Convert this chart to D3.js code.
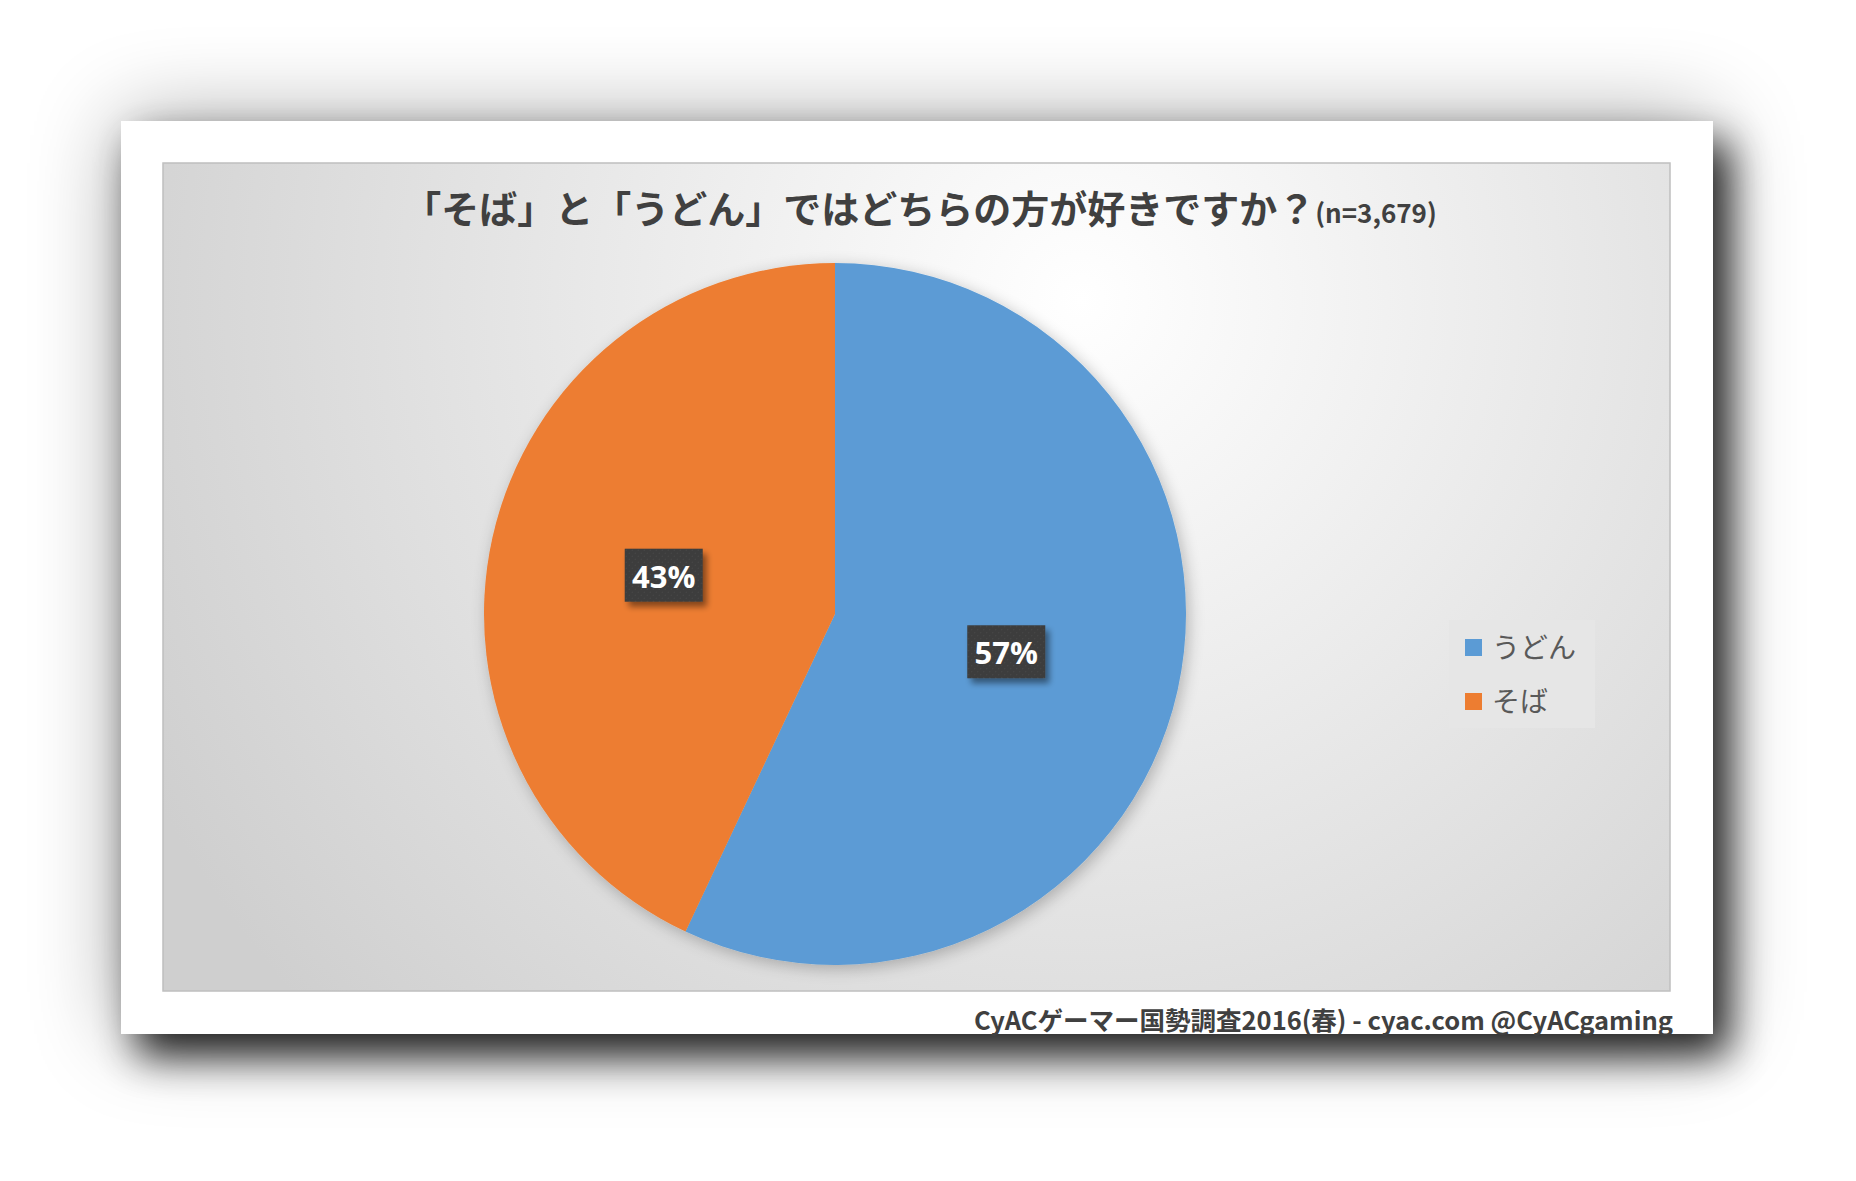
<!DOCTYPE html>
<html><head><meta charset="utf-8">
<script src="https://cdn.jsdelivr.net/npm/d3@7"></script>
<style>
html,body{margin:0;padding:0;background:#fff;}
svg{display:block;}
</style></head>
<body>
<svg id="c" width="1856" height="1181"></svg>
<script>
const categories = ["うどん", "そば"];
const values = [57, 43];
const colors = ["#5B9BD5", "#ED7D31"];
const titleMain = "「そば」と「うどん」ではどちらの方が好きですか？";
const titleSub = "(n=3,679)";
const footer = "CyACゲーマー国勢調査2016(春) - cyac.com @CyACgaming";

const svg = d3.select("#c");
const defs = svg.append("defs");

const cardShadow = defs.append("filter").attr("id","cardShadow")
  .attr("x","-15%").attr("y","-20%").attr("width","135%").attr("height","145%");
cardShadow.append("feGaussianBlur").attr("in","SourceAlpha").attr("stdDeviation",45).attr("result","amb");
cardShadow.append("feComponentTransfer").attr("in","amb").attr("result","amb2")
  .append("feFuncA").attr("type","linear").attr("slope",0.35);
cardShadow.append("feGaussianBlur").attr("in","SourceAlpha").attr("stdDeviation",20).attr("result","b");
cardShadow.append("feOffset").attr("in","b").attr("dx",16).attr("dy",22).attr("result","o");
cardShadow.append("feComponentTransfer").attr("in","o").attr("result","o2")
  .append("feFuncA").attr("type","linear").attr("slope",0.85);
const m1 = cardShadow.append("feMerge");
m1.append("feMergeNode").attr("in","amb2");
m1.append("feMergeNode").attr("in","o2");
m1.append("feMergeNode").attr("in","SourceGraphic");

const pieShadow = defs.append("filter").attr("id","pieShadow")
  .attr("x","-20%").attr("y","-20%").attr("width","140%").attr("height","140%");
pieShadow.append("feGaussianBlur").attr("in","SourceAlpha").attr("stdDeviation",8).attr("result","b");
pieShadow.append("feOffset").attr("in","b").attr("dx",3).attr("dy",4).attr("result","o");
pieShadow.append("feComponentTransfer").attr("in","o").attr("result","o2")
  .append("feFuncA").attr("type","linear").attr("slope",0.25);
const m2 = pieShadow.append("feMerge");
m2.append("feMergeNode").attr("in","o2");
m2.append("feMergeNode").attr("in","SourceGraphic");

const lblShadow = defs.append("filter").attr("id","lblShadow")
  .attr("x","-30%").attr("y","-30%").attr("width","170%").attr("height","180%");
lblShadow.append("feGaussianBlur").attr("in","SourceAlpha").attr("stdDeviation",3).attr("result","b");
lblShadow.append("feOffset").attr("in","b").attr("dx",4).attr("dy",5).attr("result","o");
lblShadow.append("feComponentTransfer").attr("in","o").attr("result","o2")
  .append("feFuncA").attr("type","linear").attr("slope",0.45);
const m3 = lblShadow.append("feMerge");
m3.append("feMergeNode").attr("in","o2");
m3.append("feMergeNode").attr("in","SourceGraphic");

const grad = defs.append("radialGradient").attr("id","bg")
  .attr("gradientUnits","userSpaceOnUse")
  .attr("cx",1080).attr("cy",300).attr("r",1050);
grad.append("stop").attr("offset","0%").attr("stop-color","#ffffff");
grad.append("stop").attr("offset","100%").attr("stop-color","#cfcfcf");

const pat = defs.append("pattern").attr("id","dots").attr("patternUnits","userSpaceOnUse")
  .attr("width",6).attr("height",6);
pat.append("rect").attr("width",6).attr("height",6).attr("fill","#3c3c3c");
pat.append("circle").attr("cx",1.5).attr("cy",1.5).attr("r",0.8).attr("fill","#4a4a4a");
pat.append("circle").attr("cx",4.5).attr("cy",4.5).attr("r",0.8).attr("fill","#4a4a4a");

// card
svg.append("rect").attr("x",121).attr("y",121).attr("width",1592).attr("height",913)
  .attr("fill","#fff").attr("filter","url(#cardShadow)");

// plot area
svg.append("rect").attr("x",163).attr("y",163).attr("width",1507).attr("height",828)
  .attr("fill","url(#bg)").attr("stroke","#bfbfbf").attr("stroke-width",1.5);

// title
const t = svg.append("text").attr("x",920).attr("y",223).attr("text-anchor","middle")
  .attr("font-family","'Noto Sans CJK JP'").attr("font-weight","bold").attr("fill","#404040");
t.append("tspan").attr("font-size",38).text(titleMain);
t.append("tspan").attr("font-size",26).text(titleSub);

// pie
const cx = 835, cy = 614, R = 351;
const pie = d3.pie().sort(null).value(d => d)(values);
const arc = d3.arc().innerRadius(0).outerRadius(R);
const labelArc = d3.arc().innerRadius(R*0.5).outerRadius(R*0.5);
const g = svg.append("g").attr("transform",`translate(${cx},${cy})`);
g.append("g").attr("filter","url(#pieShadow)").selectAll("path").data(pie).join("path")
  .attr("d",arc).attr("fill",(d,i)=>colors[i]);

const lg = g.selectAll("g.lbl").data(pie).join("g").attr("class","lbl")
  .attr("transform",d=>{const c=labelArc.centroid(d);return `translate(${c[0]},${c[1]})`;});
lg.append("rect").attr("x",-39).attr("y",-27).attr("width",78).attr("height",53)
  .attr("fill","url(#dots)").attr("filter","url(#lblShadow)");
lg.append("text").attr("text-anchor","middle").attr("y",12)
  .attr("font-family","'Open Sans'").attr("font-weight","bold").attr("font-size",31)
  .attr("fill","#fff").text(d=>d.data+"%");

// legend
const leg = svg.append("g");
leg.append("rect").attr("x",1449).attr("y",620).attr("width",146).attr("height",108).attr("fill","#e6e6e6");
const li = leg.selectAll("g.li").data(categories).join("g").attr("class","li")
  .attr("transform",(d,i)=>`translate(1465,${647+i*54})`);
li.append("rect").attr("x",0).attr("y",-8).attr("width",17).attr("height",17).attr("fill",(d,i)=>colors[i]);
li.append("text").attr("x",27).attr("y",11).attr("font-family","'Noto Sans CJK JP'")
  .attr("font-size",28).attr("fill","#595959").text(d=>d);

// footer
svg.append("text").attr("x",1673).attr("y",1030).attr("text-anchor","end")
  .attr("font-family","'Noto Sans CJK JP'").attr("font-weight","bold").attr("font-size",25.5)
  .attr("fill","#404040").text(footer);
</script>
</body></html>
